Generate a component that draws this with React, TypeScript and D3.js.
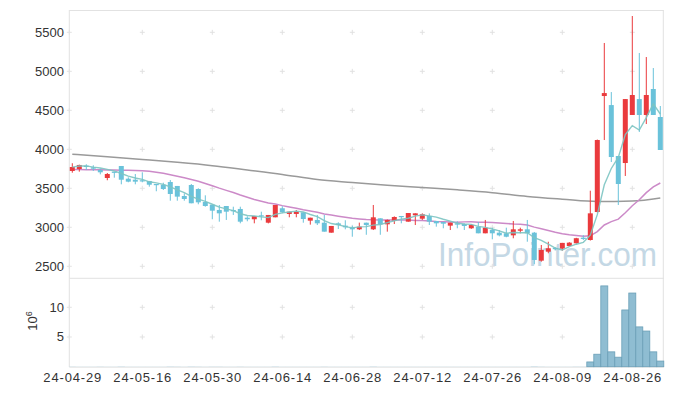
import React from "react";
import * as d3 from "d3";

const dates = [
  "2024-04-29","2024-04-30",
  "2024-05-02","2024-05-03","2024-05-07","2024-05-08","2024-05-09","2024-05-10","2024-05-13","2024-05-14","2024-05-16","2024-05-17",
  "2024-05-20","2024-05-21","2024-05-22","2024-05-23","2024-05-24","2024-05-27","2024-05-28","2024-05-29","2024-05-30","2024-05-31",
  "2024-06-03","2024-06-04","2024-06-05","2024-06-07","2024-06-10","2024-06-11","2024-06-12","2024-06-13","2024-06-14",
  "2024-06-17","2024-06-18","2024-06-19","2024-06-20","2024-06-21","2024-06-24","2024-06-25","2024-06-26","2024-06-27","2024-06-28",
  "2024-07-01","2024-07-02","2024-07-03","2024-07-04","2024-07-05","2024-07-08","2024-07-09","2024-07-10","2024-07-11","2024-07-12",
  "2024-07-15","2024-07-16","2024-07-17","2024-07-18","2024-07-19","2024-07-22","2024-07-23","2024-07-24","2024-07-25","2024-07-26",
  "2024-07-29","2024-07-30","2024-07-31",
  "2024-08-01","2024-08-02","2024-08-05","2024-08-06","2024-08-07","2024-08-08","2024-08-09",
  "2024-08-12","2024-08-13","2024-08-14","2024-08-16","2024-08-19","2024-08-20","2024-08-21","2024-08-22","2024-08-23",
  "2024-08-26","2024-08-27","2024-08-28","2024-08-29","2024-08-30",
];

const opens = [
  3722,3747,3790,3769,3735,3632,3713,3786,3623,3610,3603,3594,3555,3546,3581,3530,3401,3542,3491,3324,
  3290,3222,3273,3222,3235,3123,3103,3154,3059,3128,3244,3171,3171,3192,3085,3094,3059,2931,3051,3021,
  3000,2974,3059,2974,3115,3038,3085,3145,3072,3154,3110,3145,3081,3068,3021,3051,3042,2987,3008,2923,
  2965,2931,2923,2897,2956,2974,2931,2572,2687,2735,2727,2760,2795,2867,2837,3196,4683,4567,3914,3824,
  4440,4644,4440,4773,4414,
];
const highs = [
  3821,3803,3808,3795,3756,3696,3713,3786,3641,3683,3705,3594,3555,3572,3606,3530,3436,3555,3500,3410,
  3290,3286,3273,3264,3264,3141,3145,3200,3158,3286,3270,3200,3222,3192,3123,3158,3158,3017,3064,3090,
  3021,3060,3060,3286,3115,3100,3140,3145,3183,3179,3179,3179,3081,3068,3059,3077,3051,3040,3068,3094,
  2995,2965,2995,3081,2995,3094,2940,2773,2815,2745,2800,2810,2865,2900,3469,4125,5363,4734,3914,4644,
  5709,5235,5183,5042,4555,
];
const lows = [
  3700,3713,3735,3722,3679,3603,3636,3551,3577,3551,3577,3521,3462,3478,3341,3341,3341,3308,3295,3264,
  3103,3072,3094,3158,3051,3077,3051,3090,3050,3128,3180,3128,3128,3059,3034,3029,2944,2931,2978,2974,
  2879,2965,2904,2965,2904,2944,3042,3051,3072,3029,3094,3029,3008,2987,2965,2987,2965,2980,2923,2923,
  2846,2884,2872,2859,2923,2815,2526,2559,2667,2705,2700,2755,2790,2837,2830,3190,4119,3837,3286,3658,
  4440,4222,4324,4440,3991,
];
const closes = [
  3773,3799,3773,3751,3705,3683,3700,3610,3585,3585,3590,3546,3542,3491,3427,3393,3363,3308,3320,3273,
  3213,3179,3200,3205,3072,3103,3145,3141,3158,3286,3192,3200,3200,3106,3123,3051,2944,3017,3029,3000,
  2974,3008,3029,3128,3038,3094,3132,3132,3183,3179,3167,3072,3051,3046,3059,3034,3017,3029,2923,2995,
  2923,2897,2879,2974,2974,2923,2581,2709,2731,2722,2800,2803,2860,2850,3179,4119,4721,3901,3555,4644,
  4696,4440,4696,4440,3991,
];
// volume in millions of shares
const volumes = [
  0.03,0.02,0.02,0.02,0.03,0.02,0.02,0.04,0.02,0.02,0.02,0.02,0.02,0.02,0.04,0.03,0.02,0.04,0.03,0.02,
  0.03,0.03,0.02,0.02,0.03,0.02,0.02,0.02,0.02,0.04,0.02,0.02,0.02,0.02,0.02,0.02,0.03,0.02,0.02,0.02,
  0.02,0.02,0.02,0.04,0.02,0.02,0.02,0.02,0.02,0.02,0.02,0.02,0.02,0.02,0.02,0.02,0.02,0.02,0.02,0.02,
  0.02,0.02,0.02,0.02,0.02,0.02,0.05,0.03,0.02,0.02,0.02,0.02,0.03,0.03,0.8,2.1,13.6,2.5,1.6,9.55,
  12.4,6.7,6.0,2.5,0.95,
];
// moving averages before enough in-window history exists
const ma5Head = [3772, 3785, 3788, 3772];
const ma20Head = [3740,3740,3739,3738,3737,3736,3734,3732,3730,3728,3726,3717,3706,3692,3675,3655,3635,3612,3590];
// long moving average (grey), read at sampled dates
const maLongIdx = [0, 5, 10, 15, 20, 25, 30, 35, 40, 45, 50, 55, 60, 65, 70, 75, 80, 84];
const maLongVal = [3936,3905,3870,3833,3790,3735,3678,3612,3575,3540,3510,3480,3444,3395,3360,3330,3337,3376];

const priceTicks = [2500, 3000, 3500, 4000, 4500, 5000, 5500];
const volTicks = [5, 10];
const tickLabels = ["24-04-29","24-05-16","24-05-30","24-06-14","24-06-28","24-07-12","24-07-26","24-08-09","24-08-26"];
const tickDates = ["2024-04-29","2024-05-16","2024-05-30","2024-06-14","2024-06-28","2024-07-12","2024-07-26","2024-08-09","2024-08-26"];

const W = 673, H = 396;
const LEFT = 68.8, RIGHT = 663.8;
const PTOP = 10, PBOT = 278.3, VBOT = 366.7;
const UP = "#ea3a3d", DOWN = "#6ac2da";
const GRID = "#e2e2e2";
const FONT = "'Liberation Sans', Arial, sans-serif";

function movingAvg(n: number, head: number[]) {
  return closes.map((_, i) => {
    if (i < n - 1) return head[i];
    return d3.mean(closes.slice(i - n + 1, i + 1)) as number;
  });
}

export default function App() {
  const x = d3.scaleBand<string>().domain(dates).range([LEFT, RIGHT]).padding(0);
  const bw = x.bandwidth();
  const cx = (i: number) => (x(dates[i]) as number) + bw / 2;
  const y = d3.scaleLinear().domain([2346, 5786]).range([PBOT, PTOP]);
  const yv = d3.scaleLinear().domain([0, 14.88]).range([VBOT, PBOT]);

  const ma5 = movingAvg(5, ma5Head);
  const ma20 = movingAvg(20, ma20Head);
  const line = d3.line<number>().x((_, i) => cx(i)).y((d) => y(d));
  const longLine = d3
    .line<number>()
    .x((_, k) => cx(maLongIdx[k]))
    .y((d) => y(d))
    .curve(d3.curveMonotoneX);

  const axisX = LEFT + 0.5;
  const tickXs = tickDates.map((d) => (x(d) as number) + bw / 2);

  const cross = (px: number, py: number, key: string) => (
    <g key={key} stroke={GRID} strokeWidth={1}>
      <line x1={px - 2.5} x2={px + 2.5} y1={py} y2={py} />
      <line x1={px} x2={px} y1={py - 2.5} y2={py + 2.5} />
    </g>
  );

  return (
    <svg
      width={W}
      height={H}
      style={{ position: "absolute", left: 0, top: 0, background: "#fff" }}
      fontFamily={FONT}
    >
      {/* watermark */}
      <text
        x={438}
        y={266}
        fontSize={33}
        fill="#c4d8e5"
        textLength={219}
        lengthAdjust="spacingAndGlyphs"
        fontFamily="'Liberation Sans', Arial, sans-serif"
      >
        InfoPointer.com
      </text>

      {/* frame */}
      <g stroke={GRID} strokeWidth={1} fill="none">
        <line x1={axisX} x2={RIGHT} y1={PTOP + 0.5} y2={PTOP + 0.5} />
        <line x1={RIGHT - 0.5} x2={RIGHT - 0.5} y1={PTOP} y2={VBOT} />
        <line x1={axisX} x2={axisX} y1={PTOP} y2={VBOT} />
        <line x1={axisX} x2={RIGHT} y1={PBOT} y2={PBOT} />
        <line x1={axisX} x2={RIGHT} y1={VBOT + 0.5} y2={VBOT + 0.5} />
      </g>

      {/* grid crosses */}
      {priceTicks.map((t) => cross(axisX, y(t), `ay${t}`))}
      {volTicks.map((t) => cross(axisX, yv(t), `av${t}`))}
      {tickXs.map((tx, k) =>
        k === 0
          ? null
          : [
              ...priceTicks.map((t) => cross(tx, y(t), `p${k}-${t}`)),
              ...volTicks.map((t) => cross(tx, yv(t), `v${k}-${t}`)),
            ]
      )}

      {/* moving averages */}
      <path d={longLine(maLongVal) || ""} fill="none" stroke="#9a9a9a" strokeWidth={1.5} />
      <path d={line(ma20) || ""} fill="none" stroke="#cc8ac8" strokeWidth={1.5} />

      {/* candles */}
      {dates.map((d, i) => {
        const up = closes[i] >= opens[i];
        const c = up ? UP : DOWN;
        const top = y(Math.max(opens[i], closes[i]));
        const bot = y(Math.min(opens[i], closes[i]));
        const px = cx(i);
        return (
          <g key={d}>
            <line x1={px} x2={px} y1={y(highs[i])} y2={y(lows[i])} stroke={c} strokeWidth={1} />
            <rect x={px - 2.5} y={top} width={5} height={Math.max(1.2, bot - top)} fill={c} />
          </g>
        );
      })}

      <path d={line(ma5) || ""} fill="none" stroke="#7cc4c2" strokeOpacity={0.9} strokeWidth={1.4} />

      {/* volume */}
      {dates.map((d, i) => {
        const h = VBOT - yv(volumes[i]);
        return (
          <rect
            key={`vol-${d}`}
            x={x(d) as number}
            y={yv(volumes[i])}
            width={bw}
            height={h}
            fill="#8fbdd2"
            stroke={h >= 2 ? "#6a9fb7" : "none"}
            strokeWidth={0.8}
          />
        );
      })}

      {/* y labels */}
      {priceTicks.map((t) => (
        <text key={`yl${t}`} x={64} y={y(t) + 4.5} fontSize={13} fill="#333" textAnchor="end">
          {t}
        </text>
      ))}
      {volTicks.map((t) => (
        <text key={`vl${t}`} x={64} y={yv(t) + 4.5} fontSize={13} fill="#333" textAnchor="end">
          {t}
        </text>
      ))}
      <text
        transform={`translate(37,321) rotate(-90)`}
        fontSize={13}
        fill="#333"
        textAnchor="middle"
      >
        10<tspan dy={-5} fontSize={9}>6</tspan>
      </text>

      {/* x labels */}
      {tickLabels.map((lab, k) => (
        <text
          key={lab}
          x={tickXs[k]}
          y={382}
          fontSize={13}
          fill="#333"
          textAnchor="middle"
          textLength={58}
          lengthAdjust="spacing"
        >
          {lab}
        </text>
      ))}
    </svg>
  );
}
